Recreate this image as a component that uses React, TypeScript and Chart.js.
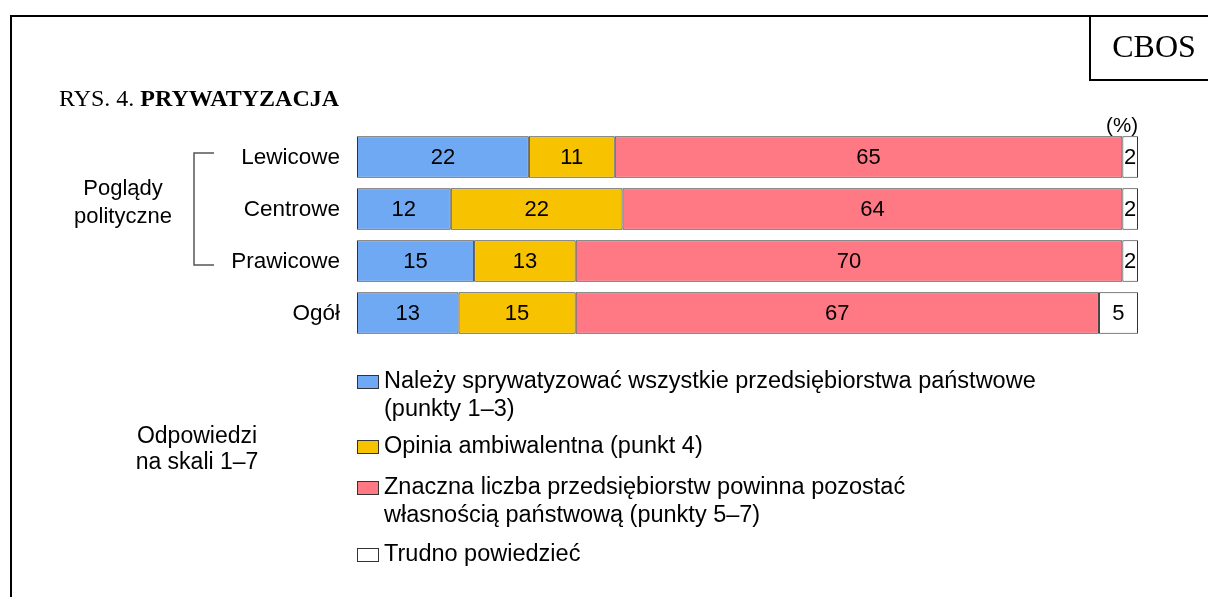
import React, { useEffect, useRef } from "react";
import { Chart, registerables } from "chart.js";

Chart.register(...registerables);

const categories = ["Lewicowe", "Centrowe", "Prawicowe", "Ogół"];
const seriesNames = [
  "Należy sprywatyzować wszystkie przedsiębiorstwa państwowe (punkty 1–3)",
  "Opinia ambiwalentna (punkt 4)",
  "Znaczna liczba przedsiębiorstw powinna pozostać własnością państwową (punkty 5–7)",
  "Trudno powiedzieć",
];
const privatize = [22, 12, 15, 13];
const ambivalent = [11, 22, 13, 15];
const stateOwned = [65, 64, 70, 67];
const hardToSay = [2, 2, 2, 5];

const legendLines = [
  ["Należy sprywatyzować wszystkie przedsiębiorstwa państwowe", "(punkty 1–3)"],
  ["Opinia ambiwalentna (punkt 4)"],
  ["Znaczna liczba przedsiębiorstw powinna pozostać", "własnością państwową (punkty 5–7)"],
  ["Trudno powiedzieć"],
];

const colors = ["#6FA9F3", "#F7C300", "#FF7985", "#FFFFFF"];
const SANS = '"Liberation Sans", Arial, sans-serif';
const SERIF = '"Liberation Serif", "Times New Roman", serif';

const decorPlugin = {
  id: "decor",
  afterDatasetsDraw(chart: any) {
    const ctx = chart.ctx as CanvasRenderingContext2D;
    ctx.save();
    // frame
    ctx.fillStyle = "#000";
    ctx.fillRect(10, 15, 2, 600);
    ctx.fillRect(10, 15, 1200, 2);
    // CBOS box
    ctx.fillRect(1089, 15, 2, 66);
    ctx.fillRect(1089, 79, 120, 2);
    ctx.font = `32px ${SERIF}`;
    ctx.textAlign = "center";
    ctx.textBaseline = "alphabetic";
    ctx.fillText("CBOS", 1154, 57);

    // title
    ctx.textAlign = "left";
    ctx.font = `24px ${SERIF}`;
    const pre = "RYS. 4. ";
    ctx.fillText(pre, 59, 106);
    const w = ctx.measureText(pre).width;
    ctx.font = `bold 24px ${SERIF}`;
    ctx.fillText("PRYWATYZACJA", 59 + w, 106);

    // (%)
    ctx.font = `20.5px ${SANS}`;
    ctx.textAlign = "right";
    ctx.fillText("(%)", 1138, 132);

    // category labels
    const yScale = chart.scales.y;
    ctx.font = `22.5px ${SANS}`;
    ctx.textAlign = "right";
    ctx.textBaseline = "middle";
    categories.forEach((c, i) => {
      ctx.fillText(c, 340, yScale.getPixelForValue(i) + 1);
    });

    // bracket
    const yTop = yScale.getPixelForValue(0) - 4;
    const yBot = yScale.getPixelForValue(2) + 4;
    ctx.strokeStyle = "#555";
    ctx.lineWidth = 1.5;
    ctx.beginPath();
    ctx.moveTo(214, yTop);
    ctx.lineTo(194, yTop);
    ctx.lineTo(194, yBot);
    ctx.lineTo(214, yBot);
    ctx.stroke();

    ctx.textAlign = "center";
    ctx.font = `22px ${SANS}`;
    ctx.fillText("Poglądy", 123, 189);
    ctx.fillText("polityczne", 123, 217);

    // value labels
    ctx.font = `22px ${SANS}`;
    ctx.fillStyle = "#000";
    chart.data.datasets.forEach((ds: any, di: number) => {
      const meta = chart.getDatasetMeta(di);
      meta.data.forEach((el: any, i: number) => {
        const cx = (el.x + el.base) / 2;
        ctx.fillText(String(ds.data[i]), cx, el.y + 1);
      });
    });

    // legend
    ctx.textAlign = "left";
    ctx.font = `23.5px ${SANS}`;
    const legendY = [382, 447, 488, 555];
    legendLines.forEach((lines, i) => {
      const y0 = legendY[i];
      ctx.fillStyle = colors[i];
      ctx.fillRect(357, y0 - 7, 22, 14);
      ctx.strokeStyle = "#333";
      ctx.lineWidth = 1;
      ctx.strokeRect(357.5, y0 - 6.5, 21, 13);
      ctx.fillStyle = "#000";
      lines.forEach((t, li) => {
        ctx.fillText(t, 384, y0 + li * 28);
      });
    });

    ctx.textAlign = "center";
    ctx.font = `23px ${SANS}`;
    ctx.fillText("Odpowiedzi", 197, 437);
    ctx.fillText("na skali 1–7", 197, 463);
    ctx.restore();
  },
};

export default function App() {
  const ref = useRef<HTMLCanvasElement | null>(null);
  useEffect(() => {
    if (!ref.current) return;
    const values = [privatize, ambivalent, stateOwned, hardToSay];
    const chart = new Chart(ref.current, {
      type: "bar",
      data: {
        labels: categories,
        datasets: values.map((v, i) => ({
          label: seriesNames[i],
          data: v,
          backgroundColor: colors[i],
          borderColor: "#333",
          borderWidth: 1,
          borderSkipped: false,
          categoryPercentage: 1,
          barPercentage: 0.8,
        })),
      },
      options: {
        indexAxis: "y",
        responsive: false,
        animation: false,
        devicePixelRatio: 1,
        layout: { padding: { left: 357, right: 70, top: 131, bottom: 258 } },
        scales: {
          x: { stacked: true, min: 0, max: 100, display: false },
          y: { stacked: true, display: false },
        },
        plugins: { legend: { display: false }, tooltip: { enabled: false } },
      },
      plugins: [decorPlugin],
    } as any);
    return () => chart.destroy();
  }, []);
  return (
    <div style={{ position: "fixed", left: 0, top: 0, width: 1208, height: 597, background: "#fff" }}>
      <canvas ref={ref} width={1208} height={597} style={{ display: "block" }} />
    </div>
  );
}
